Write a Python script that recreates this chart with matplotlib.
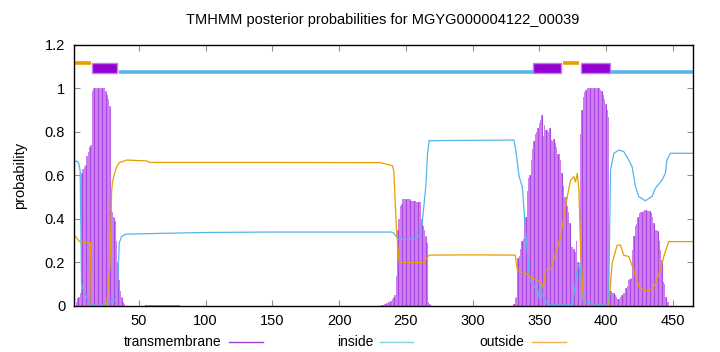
import numpy as np
from matplotlib import pyplot as plt
from matplotlib.lines import Line2D

plt.rcParams['font.family'] = ['Liberation Sans', 'DejaVu Sans']

seq_len = 465

# transmembrane posterior, per residue, in stretches (zero elsewhere)
tm_a_start = 1
tm_a = [0, 0, 0.02, 0.035, 0.04, 0.06, 0.61, 0.63, 0.64, 0.65, 0.69, 0.71, 0.73, 0.74,
        0.99, 1.0, 1.0, 1.0, 1.0, 1.0, 1.0, 1.0, 1.0, 1.0, 0.99, 0.97, 0.95, 0.92,
        0.44, 0.43, 0.41, 0.39, 0.30, 0.20, 0.12, 0.07, 0.04, 0.02, 0.01, 0.0]
tm_b_start = 55
tm_b = [0.006] * 26
tm_c_start = 232
tm_c = [0.005, 0.005, 0.01, 0.01, 0.015, 0.02, 0.02, 0.025, 0.03, 0.04, 0.05, 0.14,
        0.35, 0.40, 0.46, 0.47, 0.49, 0.49, 0.49, 0.49, 0.49, 0.49, 0.485, 0.485,
        0.485, 0.485, 0.48, 0.48, 0.48, 0.48, 0.40, 0.37, 0.35, 0.32, 0.29, 0.02, 0.01]
tm_d_start = 330
tm_d = [0.0, 0.01, 0.035, 0.04, 0.22, 0.23, 0.26, 0.30, 0.31, 0.40,
        0.41, 0.53, 0.59, 0.60, 0.67, 0.72, 0.76, 0.79, 0.80, 0.82,
        0.84, 0.855, 0.88, 0.78, 0.83, 0.81, 0.81, 0.80, 0.82, 0.765,
        0.76, 0.77, 0.75, 0.73, 0.70, 0.70, 0.67, 0.61, 0.55, 0.50,
        0.50, 0.46, 0.43, 0.38, 0.27, 0.27, 0.26, 0.25, 0.30, 0.20,
        0.18, 0.79, 0.90, 0.96, 0.985, 0.995, 1.0, 1.0, 1.0, 1.0,
        1.0, 1.0, 1.0, 1.0, 1.0, 1.0, 0.995, 0.99, 0.97, 0.95,
        0.93, 0.90, 0.87, 0.07, 0.07, 0.06, 0.06, 0.05, 0.04, 0.03,
        0.03, 0.04, 0.05, 0.058, 0.06, 0.085, 0.09, 0.12, 0.125, 0.13,
        0.257, 0.32, 0.37, 0.375, 0.41, 0.426, 0.434, 0.434, 0.435, 0.441,
        0.441, 0.437, 0.437, 0.435, 0.426, 0.41, 0.38, 0.35, 0.35, 0.345,
        0.30, 0.257, 0.21, 0.11, 0.10, 0.043, 0.02, 0.02, 0.0]

# inside / outside posterior, read as breakpoints (residue, probability)
inside_pos = [1, 4, 5, 6, 7, 9, 11, 13, 20, 25, 28, 32, 33.7, 35.3, 37, 40, 60, 100, 150,
              200, 239, 241, 244, 250, 258, 260, 262.5, 265, 266.3, 267.5, 331, 332.4,
              334.9, 337.3, 339.3, 341, 343, 344.8, 347, 349, 350, 351, 352, 355, 358,
              375, 377, 379, 380.5, 381.5, 383, 400, 402, 403.4, 405.9, 409.6, 413.3,
              417.1, 419.6, 422.1, 424.6, 429.5, 434.5, 437, 442, 444.5, 445.7, 448.2, 465]
inside_val = [0.665, 0.665, 0.655, 0.62, 0.10, 0.06, 0.04, 0.01, 0.0, 0.01, 0.02, 0.03,
              0.05, 0.29, 0.32, 0.33, 0.333, 0.338, 0.34, 0.34, 0.34, 0.335, 0.31, 0.305,
              0.31, 0.32, 0.395, 0.55, 0.70, 0.76, 0.763, 0.717, 0.595, 0.549, 0.38, 0.25,
              0.12, 0.104, 0.08, 0.074, 0.035, 0.10, 0.05, 0.02, 0.005, 0.005, 0.10, 0.19,
              0.196, 0.10, 0.02, 0.0, 0.02, 0.625, 0.702, 0.717, 0.71, 0.671, 0.64, 0.549,
              0.503, 0.484, 0.503, 0.541, 0.579, 0.61, 0.671, 0.702, 0.702]

outside_pos = [1, 3.5, 5, 6, 13.8, 14.3, 25.8, 27.1, 28.3, 29.6, 30.1, 31.3, 33.3, 35.3,
               40.8, 55.7, 58.2, 150, 231, 240, 241, 243, 245, 250, 263.8, 265.5, 267.6,
               300, 332, 333.6, 339.8, 347.3, 351.5, 353, 354.8, 358.5, 362.3, 366,
               368.5, 371, 373.5, 376, 377.2, 378.5, 379.7, 381, 383.4, 402.1, 404.6,
               408.4, 410.9, 413.3, 417.1, 420.8, 424.6, 429.5, 434.5, 437, 440.8, 443.3,
               447, 465]
outside_val = [0.333, 0.31, 0.30, 0.295, 0.29, 0.0, 0.0, 0.10, 0.18, 0.53, 0.565, 0.60,
               0.64, 0.659, 0.671, 0.667, 0.66, 0.66, 0.659, 0.645, 0.62, 0.35, 0.204,
               0.20, 0.20, 0.22, 0.234, 0.235, 0.234, 0.165, 0.15, 0.12, 0.11, 0.081,
               0.165, 0.17, 0.242, 0.319, 0.411, 0.503, 0.579, 0.595, 0.57, 0.61, 0.533,
               0.257, 0.0, 0.0, 0.196, 0.28, 0.28, 0.234, 0.227, 0.165, 0.089, 0.07, 0.075,
               0.104, 0.165, 0.227, 0.296, 0.296]

# predicted topology segments (start, end)
outside_segs = [(1, 14), (368, 380)]
tm_segs = [(14.5, 33.5), (345.5, 366.5), (381, 403)]
inside_segs = [(35, 345), (404, 465)]

tm_color = '#9400d3'
in_color = '#56b4e9'
out_color = '#e69f00'

# assemble per-residue tm array
residues = np.arange(1, seq_len + 1)
tm_prob = np.zeros(seq_len)
for start, vals in [(tm_a_start, tm_a), (tm_b_start, tm_b),
                    (tm_c_start, tm_c), (tm_d_start, tm_d)]:
    tm_prob[start - 1:start - 1 + len(vals)] = vals

fig = plt.figure(figsize=(7.2, 3.52), dpi=100)
ax = fig.add_axes([0.1021, 0.1307, 0.86, 0.7415])

# impulses: light fill plus darker strokes
ax.bar(residues, tm_prob, width=1.0, color='#cb80ec', linewidth=0)
ax.vlines(residues[::3], 0, tm_prob[::3], color='#a033e0', linewidth=0.8, alpha=0.75)

ax.plot(inside_pos, inside_val, color=in_color, lw=0.9)
ax.plot(outside_pos, outside_val, color=out_color, lw=0.9)

# topology bar on top
for s, e in outside_segs:
    ax.hlines(1.117, s, e, color=out_color, lw=2.6)
for s, e in inside_segs:
    ax.hlines(1.076, s, e, color=in_color, lw=2.6)
for s, e in tm_segs:
    ax.fill_between([s, e], 1.07, 1.118, facecolor=tm_color, edgecolor='#c27fe6', lw=1)

ax.set_xlim(1, seq_len)
ax.set_ylim(0, 1.2)
ax.set_xticks([50, 100, 150, 200, 250, 300, 350, 400, 450])
ax.set_yticks([0, 0.2, 0.4, 0.6, 0.8, 1.0, 1.2])
ax.set_yticklabels(['0', '0.2', '0.4', '0.6', '0.8', '1', '1.2'])
ax.tick_params(direction='in', length=4, color='#909090', labelsize=10.5,
               top=True, right=True, pad=6)
for sp in ax.spines.values():
    sp.set_linewidth(1.0)

ax.set_ylabel('probability', fontsize=10.5, labelpad=13)
fig.text(0.532, 0.943, 'TMHMM posterior probabilities for MGYG000004122_00039',
         ha='center', va='center', fontsize=10.5)

# legend along the bottom
legend_items = [('transmembrane', '#a040d0', 221, 229, 263),
                ('inside', '#87ceeb', 373, 380, 413),
                ('outside', '#f0b050', 524, 532, 566)]
for label, col, tx, x0, x1 in legend_items:
    fig.text(tx / 720, 1 - 341.5 / 352, label, ha='right', va='center', fontsize=10)
    fig.add_artist(Line2D([x0 / 720, x1 / 720], [1 - 341.5 / 352] * 2, color=col, lw=1))

fig.savefig('out.png', dpi=100)
